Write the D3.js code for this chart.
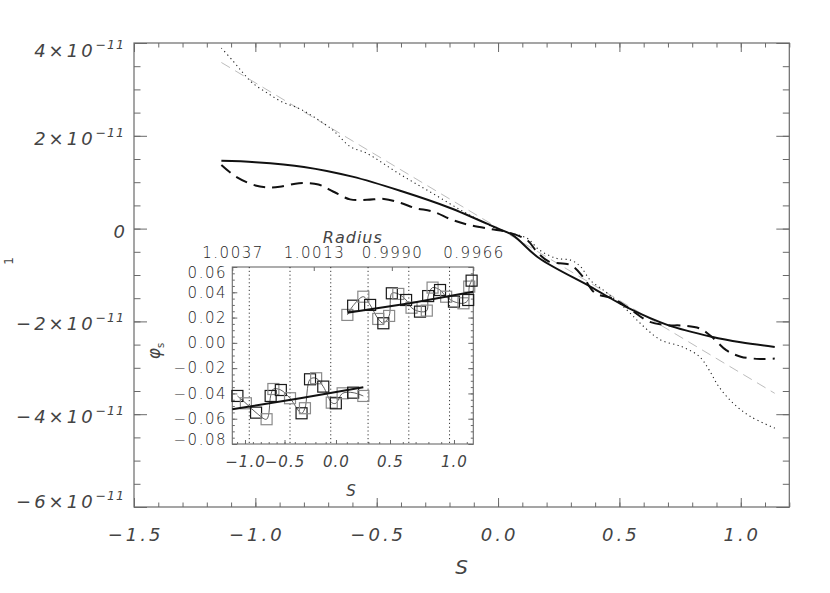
<!DOCTYPE html>
<html><head><meta charset="utf-8">
<script src="https://cdn.jsdelivr.net/npm/d3@7"></script>
<style>
html,body{margin:0;padding:0;background:#fff;}
svg{display:block;font-family:"DejaVu Sans",sans-serif;}
.up{font-weight:300;}
</style></head><body>
<svg id="chart" width="830" height="593"></svg>
<script>
// ---------------- data (main panel, y in units of 1e-11) ----------------
const solidS = [-1.14, -1.0, -0.8, -0.6, -0.4, -0.2, 0.0, 0.06, 0.17, 0.38, 0.54, 0.7, 0.88, 1.0, 1.14];
const solidV = [1.46, 1.43, 1.33, 1.12, 0.81, 0.45, 0.0, -0.14, -0.64, -1.25, -1.72, -2.08, -2.33, -2.45, -2.55];

const dashS = [-1.14, -1.08, -1.0, -0.95, -0.9, -0.82, -0.74, -0.68, -0.61, -0.54, -0.47, -0.4, -0.34, -0.27, -0.19, -0.12, -0.03, 0.035, 0.12, 0.16, 0.21, 0.3, 0.35, 0.4, 0.47, 0.54, 0.62, 0.69, 0.76, 0.83, 0.88, 0.94, 1.0, 1.08, 1.14];
const dashV = [1.37, 1.12, 0.93, 0.89, 0.90, 0.98, 0.95, 0.80, 0.63, 0.62, 0.64, 0.55, 0.44, 0.37, 0.19, 0.08, -0.01, -0.07, -0.25, -0.50, -0.71, -0.79, -1.04, -1.39, -1.50, -1.72, -2.0, -2.08, -2.09, -2.15, -2.33, -2.62, -2.76, -2.81, -2.80];

const dotS = [-1.14, -1.09, -1.05, -1.01, -0.95, -0.89, -0.82, -0.76, -0.68, -0.61, -0.54, -0.41, -0.27, -0.13, 0.007, 0.12, 0.17, 0.24, 0.3, 0.34, 0.38, 0.45, 0.53, 0.6, 0.67, 0.76, 0.83, 0.87, 0.91, 0.97, 1.04, 1.14];
const dotV = [3.89, 3.60, 3.35, 3.13, 2.92, 2.73, 2.59, 2.41, 2.12, 1.77, 1.62, 1.19, 0.76, 0.33, -0.03, -0.21, -0.46, -0.64, -0.68, -0.82, -1.11, -1.39, -1.75, -2.11, -2.40, -2.55, -2.76, -3.05, -3.41, -3.77, -4.05, -4.30];

const grayS = [-1.14, 1.14];
const grayV = [3.58, -3.55];

const xMajorTicks = [-1.5, -1.0, -0.5, 0.0, 0.5, 1.0];
const xTickLabels = ["\u22121.5", "\u22121.0", "\u22120.5", "0.0", "0.5", "1.0"];
const yMajorTicks = [-6, -4, -2, 0, 2, 4];
const yTickLabels = ["\u22126", "\u22124", "\u22122", "0", "2", "4"];

// ---------------- data (inset) ----------------
const g1R = [1.00355, 1.00330, 1.00300, 1.00269, 1.00257, 1.00249, 1.00227, 1.00200, 1.00166, 1.00156, 1.00141, 1.00123, 1.00102, 1.00077, 1.00065, 1.00045, 1.00014, 0.99984];
const g1V = [-0.0420, -0.0478, -0.0552, -0.0604, -0.0420, -0.0365, -0.0373, -0.0438, -0.0557, -0.0517, -0.0288, -0.0280, -0.0346, -0.0473, -0.0478, -0.0399, -0.0394, -0.0420];
const g2R = [1.00031, 1.00014, 0.99984, 0.99964, 0.99940, 0.99925, 0.99908, 0.99900, 0.99881, 0.99858, 0.99842, 0.99817, 0.99797, 0.99793, 0.99780, 0.99758, 0.99740, 0.99717, 0.99689, 0.99675, 0.99672, 0.99665];
const g2V = [0.0221, 0.0294, 0.0365, 0.0300, 0.0189, 0.0155, 0.0213, 0.0392, 0.0387, 0.0339, 0.0278, 0.0247, 0.0255, 0.0370, 0.0437, 0.0418, 0.0365, 0.0326, 0.0313, 0.0339, 0.0445, 0.0492];
const fit1R = [1.0037, 1.0017, 0.99984];
const fit1V = [-0.0525, -0.0438, -0.0351];
const fit2R = [1.00031, 0.99847, 0.9966];
const fit2V = [0.0239, 0.0313, 0.0405];
const boundaryR = [1.0032, 1.0020, 1.0008, 0.9997, 0.9985, 0.9973];
const radiusTicks = [1.0037, 1.0013, 0.9990, 0.9966];
const radiusLabels = ["1.0037", "1.0013", "0.9990", "0.9966"];
const insetSTicks = [-1.0, -0.5, 0.0, 0.5, 1.0];
const insetSTickLabels = ["\u22121.0", "\u22120.5", "0.0", "0.5", "1.0"];
const insetSTickRadius = [1.003326, 1.002162, 1.000645, 0.999054, 0.997169];
const insetYTicks = [-0.08, -0.06, -0.04, -0.02, 0.00, 0.02, 0.04, 0.06];
const insetYLabels = ["\u22120.08", "\u22120.06", "\u22120.04", "\u22120.02", "0.00", "0.02", "0.04", "0.06"];

// ---------------- layout ----------------
const svg = d3.select("#chart");
const AX = "#6a6a6a", TX = "#444", TXU = "#1e1e1e";
const X0 = 134, X1 = 789.3, Y0 = 43, Y1 = 507;
const x = d3.scaleLinear().domain([-1.5, 1.2]).range([X0, X1]);
const y = d3.scaleLinear().domain([-6, 4]).range([Y1, Y0]);

function tickGroup(parent, gen, tx, ty) {
  const g = parent.append("g").attr("transform", `translate(${tx},${ty})`).call(gen);
  g.select(".domain").remove();
  g.selectAll("line").attr("stroke", AX).attr("stroke-width", 1);
  g.selectAll("text").remove();
  return g;
}
const xMinor = d3.range(-15, 13).map(i => i / 10);
const yMinor = d3.range(-12, 9).map(i => i / 2);

tickGroup(svg, d3.axisBottom(x).tickValues(xMajorTicks).tickSizeInner(-9).tickSizeOuter(0), 0, Y1);
tickGroup(svg, d3.axisBottom(x).tickValues(xMinor).tickSizeInner(-4.5).tickSizeOuter(0), 0, Y1);
tickGroup(svg, d3.axisTop(x).tickValues(xMajorTicks).tickSizeInner(-9).tickSizeOuter(0), 0, Y0);
tickGroup(svg, d3.axisTop(x).tickValues(xMinor).tickSizeInner(-4.5).tickSizeOuter(0), 0, Y0);
tickGroup(svg, d3.axisLeft(y).tickValues(yMajorTicks).tickSizeInner(-13).tickSizeOuter(0), X0, 0);
tickGroup(svg, d3.axisLeft(y).tickValues(yMinor).tickSizeInner(-6.5).tickSizeOuter(0), X0, 0);
tickGroup(svg, d3.axisRight(y).tickValues(yMajorTicks).tickSizeInner(-13).tickSizeOuter(0), X1, 0);
tickGroup(svg, d3.axisRight(y).tickValues(yMinor).tickSizeInner(-6.5).tickSizeOuter(0), X1, 0);

svg.append("rect").attr("x", X0).attr("y", Y0).attr("width", X1 - X0).attr("height", Y1 - Y0)
  .attr("fill", "none").attr("stroke", AX).attr("stroke-width", 1.2);

// x tick labels
xMajorTicks.forEach((v, i) => {
  svg.append("text").attr("x", x(v) + 1.5).attr("y", Y1 + 34).attr("text-anchor", "middle")
    .attr("font-size", 18).attr("font-style", "italic").attr("letter-spacing", 3).attr("fill", TX)
    .text(xTickLabels[i]);
});
svg.append("text").attr("x", (X0 + X1) / 2).attr("y", 574).attr("text-anchor", "middle")
  .attr("font-size", 20).attr("font-style", "italic").attr("fill", TX).text("S");

// y tick labels
yMajorTicks.forEach((v, i) => {
  let off = 9;
  if (i === yMajorTicks.length - 1) off = 14;
  if (i === 0) off = 1;
  const t = svg.append("text").attr("x", 125).attr("y", y(v) + off).attr("text-anchor", "end")
    .attr("font-size", 18).attr("font-style", "italic").attr("fill", TX);
  if (v === 0) {
    t.text(yTickLabels[i]);
  } else {
    t.append("tspan").attr("letter-spacing", 3).text(yTickLabels[i] + "\u00d710");
    t.append("tspan").attr("font-size", 12.5).attr("dy", -8).attr("letter-spacing", 1).text("\u221211");
  }
});
// truncated y title at left edge
svg.append("text").attr("transform", "translate(13,261) rotate(-90)").attr("text-anchor", "middle")
  .attr("font-size", 12).attr("fill", TX).text("1");

// main curves
const line = d3.line().x(d => x(d[0])).y(d => y(d[1])).curve(d3.curveCatmullRom.alpha(0.5));
const zip = (a, b) => a.map((v, i) => [v, b[i]]);
svg.append("path").datum(zip(grayS, grayV)).attr("d", line).attr("fill", "none")
  .attr("stroke", "#bdbdbd").attr("stroke-width", 1).attr("stroke-dasharray", "10,6");
svg.append("path").datum(zip(dotS, dotV)).attr("d", line).attr("fill", "none")
  .attr("stroke", "#222").attr("stroke-width", 1.1).attr("stroke-dasharray", "1.2,3.3");
svg.append("path").datum(zip(dashS, dashV)).attr("d", line).attr("fill", "none")
  .attr("stroke", "#111").attr("stroke-width", 2).attr("stroke-dasharray", "12,7");
svg.append("path").datum(zip(solidS, solidV)).attr("d", line).attr("fill", "none")
  .attr("stroke", "#111").attr("stroke-width", 2);

// ---------------- inset ----------------
const IX0 = 232.3, IX1 = 473.3, IY0 = 267, IY1 = 444;
const xR = d3.scaleLinear().domain([radiusTicks[0], radiusTicks[radiusTicks.length - 1]]).range([IX0, IX1]);
const xS = d3.scaleLinear().domain(insetSTicks).range(insetSTickRadius.map(r => xR(r)));
const yI = d3.scaleLinear().domain([-0.08, 0.06]).range([IY1, IY0]);
const inset = svg.append("g");

const sMinor = d3.range(-11, 12).map(i => i / 10).filter(v => xS(v) > IX0 && xS(v) < IX1);
const iyMinor = d3.range(-16, 13).map(i => i * 0.005);
tickGroup(inset, d3.axisBottom(xS).tickValues(insetSTicks).tickSizeInner(-4).tickSizeOuter(0), 0, IY1);
tickGroup(inset, d3.axisBottom(xS).tickValues(sMinor).tickSizeInner(-2).tickSizeOuter(0), 0, IY1);
tickGroup(inset, d3.axisTop(xR).tickValues(radiusTicks).tickSizeInner(-4).tickSizeOuter(0), 0, IY0);
tickGroup(inset, d3.axisLeft(yI).tickValues(insetYTicks).tickSizeInner(-5).tickSizeOuter(0), IX0, 0);
tickGroup(inset, d3.axisLeft(yI).tickValues(iyMinor).tickSizeInner(-2.5).tickSizeOuter(0), IX0, 0);
tickGroup(inset, d3.axisRight(yI).tickValues(insetYTicks).tickSizeInner(-5).tickSizeOuter(0), IX1, 0);
tickGroup(inset, d3.axisRight(yI).tickValues(iyMinor).tickSizeInner(-2.5).tickSizeOuter(0), IX1, 0);
inset.append("rect").attr("x", IX0).attr("y", IY0).attr("width", IX1 - IX0).attr("height", IY1 - IY0)
  .attr("fill", "none").attr("stroke", AX).attr("stroke-width", 1.1);

// vertical dotted boundaries
inset.selectAll("line.bd").data(boundaryR).enter().append("line").attr("class", "bd")
  .attr("x1", d => xR(d)).attr("x2", d => xR(d)).attr("y1", IY0).attr("y2", IY1)
  .attr("stroke", "#222").attr("stroke-width", 0.9).attr("stroke-dasharray", "1.2,2.6");

// thin connecting curves and squares
const iline = d3.line().x(d => xR(d[0])).y(d => yI(d[1]));
[[g1R, g1V, 0], [g2R, g2V, 1]].forEach(([R, V, start]) => {
  const pts = zip(R, V);
  inset.append("path").datum(pts).attr("d", iline.curve(d3.curveCatmullRom.alpha(0.5)))
    .attr("fill", "none").attr("stroke", "#333").attr("stroke-width", 0.8);
  inset.selectAll(null).data(pts).enter().append("rect")
    .attr("x", d => xR(d[0]) - 5.5).attr("y", d => yI(d[1]) - 5.5).attr("width", 11).attr("height", 11)
    .attr("fill", "none").attr("stroke", (d, i) => ((i + start) % 2 === 0 ? "#1a1a1a" : "#8a8a8a"))
    .attr("stroke-width", 1.2);
});
[[fit1R, fit1V], [fit2R, fit2V]].forEach(([R, V]) => {
  inset.append("path").datum(zip(R, V)).attr("d", iline.curve(d3.curveLinear))
    .attr("fill", "none").attr("stroke", "#111").attr("stroke-width", 2);
});

// inset labels
insetYTicks.forEach((v, i) => {
  let off = 5.3;
  if (i === insetYTicks.length - 1) off = 11;
  if (i === 0) off = 1;
  inset.append("text").attr("class", "up").attr("x", 227).attr("y", yI(v) + off).attr("text-anchor", "end")
    .attr("font-size", 15).attr("letter-spacing", 1.5).attr("fill", TXU).text(insetYLabels[i]);
});
radiusTicks.forEach((r, i) => {
  inset.append("text").attr("class", "up").attr("x", xR(r) + 0.75).attr("y", 258).attr("text-anchor", "middle")
    .attr("font-size", 15).attr("letter-spacing", 1.5).attr("fill", TXU).text(radiusLabels[i]);
});
insetSTicks.forEach((v, i) => {
  inset.append("text").attr("x", xS(v) + 0.5).attr("y", 467).attr("text-anchor", "middle")
    .attr("font-size", 15).attr("font-style", "italic").attr("letter-spacing", 1).attr("fill", TX)
    .text(insetSTickLabels[i]);
});
inset.append("text").attr("x", (IX0 + IX1) / 2).attr("y", 243).attr("text-anchor", "middle")
  .attr("font-size", 16).attr("font-style", "italic").attr("letter-spacing", 1).attr("fill", TX).text("Radius");
inset.append("text").attr("x", 351).attr("y", 496).attr("text-anchor", "middle")
  .attr("font-size", 15).attr("font-style", "italic").attr("fill", TX).text("S");
const phi = inset.append("text").attr("transform", "translate(160,351) rotate(-90)").attr("text-anchor", "middle")
  .attr("font-size", 17).attr("font-style", "italic").attr("fill", TX);
phi.append("tspan").text("\u03c6");
phi.append("tspan").attr("font-size", 10).attr("dy", 4).attr("font-style", "normal").text("s");
</script>
</body></html>
